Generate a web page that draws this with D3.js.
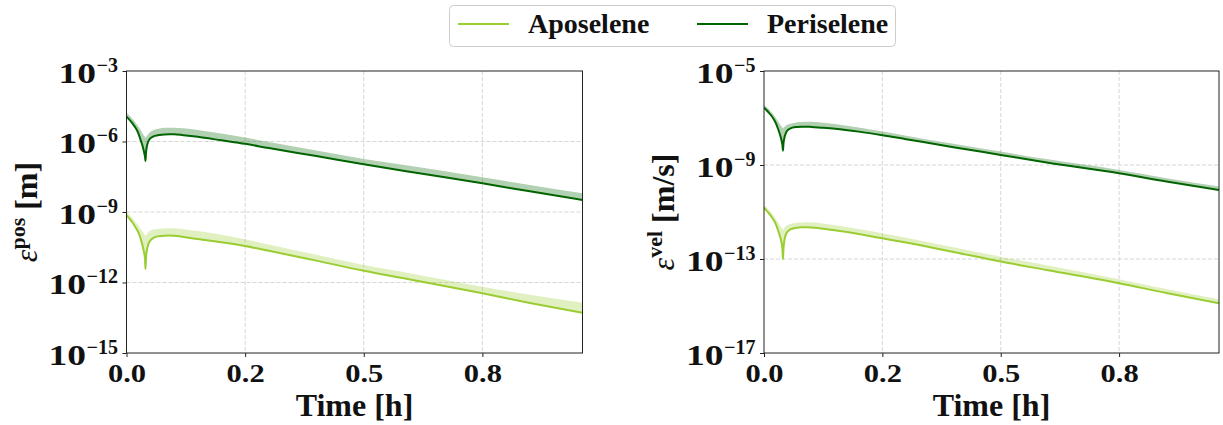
<!DOCTYPE html>
<html>
<head>
<meta charset="utf-8">
<script src="https://cdn.jsdelivr.net/npm/d3@7"></script>
<style>
  html, body { margin: 0; padding: 0; background: #ffffff; }
  svg { display: block; }
  text { font-family: 'Liberation Serif', 'Times New Roman', serif; font-weight: bold; fill: #111; }
</style>
</head>
<body>
<svg id="chart" width="1223" height="425"></svg>
<script>
// ---------------- data (log10 of the error values) ----------------
const time = [0, 0.005, 0.01, 0.015, 0.02, 0.025, 0.03, 0.034, 0.037, 0.039, 0.040, 0.041, 0.043, 0.046, 0.05, 0.055, 0.06, 0.07, 0.08, 0.09, 0.10, 0.12, 0.15, 0.2, 0.25, 0.3, 0.4, 0.5, 0.6, 0.75, 0.85, 0.961];

const posPeri   = [-4.94, -5.05, -5.17, -5.30, -5.45, -5.65, -5.95, -6.20, -6.45, -6.65, -6.83, -6.50, -6.20, -6.00, -5.87, -5.80, -5.76, -5.72, -5.70, -5.69, -5.69, -5.73, -5.80, -5.95, -6.10, -6.28, -6.62, -6.97, -7.30, -7.78, -8.12, -8.49];
const posPeriUp = [-4.77, -4.87, -4.98, -5.10, -5.22, -5.36, -5.52, -5.66, -5.76, -5.82, -5.85, -5.82, -5.76, -5.68, -5.60, -5.53, -5.49, -5.45, -5.42, -5.41, -5.41, -5.44, -5.51, -5.66, -5.83, -6.02, -6.38, -6.74, -7.04, -7.52, -7.85, -8.20];
const posApo    = [-9.13, -9.25, -9.38, -9.52, -9.68, -9.87, -10.15, -10.45, -10.72, -11.00, -11.43, -11.00, -10.62, -10.38, -10.22, -10.13, -10.07, -10.03, -10.01, -10.00, -10.01, -10.06, -10.15, -10.29, -10.45, -10.65, -11.07, -11.50, -11.88, -12.46, -12.87, -13.29];
const posApoUp  = [-8.96, -9.08, -9.20, -9.32, -9.45, -9.58, -9.72, -9.84, -9.93, -9.99, -10.02, -9.99, -9.93, -9.86, -9.80, -9.76, -9.73, -9.71, -9.70, -9.69, -9.69, -9.73, -9.81, -9.97, -10.16, -10.38, -10.82, -11.26, -11.62, -12.18, -12.52, -12.86];

const velPeri   = [-6.56, -6.66, -6.77, -6.89, -7.03, -7.22, -7.48, -7.72, -7.95, -8.17, -8.39, -8.12, -7.85, -7.65, -7.52, -7.45, -7.41, -7.38, -7.37, -7.37, -7.38, -7.41, -7.46, -7.58, -7.73, -7.90, -8.24, -8.57, -8.90, -9.35, -9.70, -10.06];
const velPeriUp = [-6.45, -6.53, -6.62, -6.73, -6.86, -7.00, -7.15, -7.27, -7.36, -7.42, -7.45, -7.42, -7.38, -7.32, -7.28, -7.24, -7.22, -7.18, -7.17, -7.16, -7.16, -7.19, -7.25, -7.40, -7.57, -7.75, -8.10, -8.43, -8.76, -9.21, -9.56, -9.92];
const velApo    = [-10.82, -10.93, -11.05, -11.18, -11.33, -11.52, -11.80, -12.05, -12.30, -12.60, -13.01, -12.60, -12.22, -11.97, -11.83, -11.75, -11.71, -11.67, -11.65, -11.65, -11.66, -11.70, -11.78, -11.94, -12.12, -12.30, -12.70, -13.11, -13.48, -14.03, -14.45, -14.88];
const velApoUp  = [-10.70, -10.80, -10.90, -11.02, -11.15, -11.30, -11.45, -11.57, -11.66, -11.72, -11.75, -11.72, -11.66, -11.60, -11.55, -11.51, -11.49, -11.46, -11.45, -11.44, -11.44, -11.48, -11.56, -11.72, -11.90, -12.10, -12.50, -12.90, -13.28, -13.86, -14.28, -14.71];

const seriesNames = ["Aposelene", "Periselene"];
const seriesColors = ["#9acd32", "#006400"];

const xTickValues = [0, 0.25, 0.5, 0.75];
const xTickLabels = ["0.0", "0.2", "0.5", "0.8"];
const posTickExps = [-3, -6, -9, -12, -15];
const velTickExps = [-5, -9, -13, -17];
const xMax = 0.961;

// ---------------- drawing ----------------
const svg = d3.select("#chart");
const defs = svg.append("defs");

function panel(opts) {
  const { left, right, top, bottom, yMinExp, yMaxExp, tickExps, series, yLabelMain, yLabelSup, yLabelUnit, yLabelX } = opts;
  const x = d3.scaleLinear().domain([0, xMax]).range([left, right]);
  const y = d3.scaleLog().domain([Math.pow(10, yMinExp), Math.pow(10, yMaxExp)]).range([bottom, top]);
  const g = svg.append("g");

  // grid
  const grid = g.append("g");
  grid.selectAll(".gx").data(xTickValues.filter(v => v > 0)).join("line")
    .attr("x1", d => x(d)).attr("x2", d => x(d)).attr("y1", top).attr("y2", bottom)
    .attr("stroke", "#d6d6d6").attr("stroke-width", 1).attr("stroke-dasharray", "4,2");
  grid.selectAll(".gy").data(tickExps.filter(e => e > yMinExp && e < yMaxExp)).join("line")
    .attr("x1", left).attr("x2", right).attr("y1", d => y(Math.pow(10, d))).attr("y2", d => y(Math.pow(10, d)))
    .attr("stroke", "#d6d6d6").attr("stroke-width", 1).attr("stroke-dasharray", "4,2");

  // clip
  const cid = "clip" + Math.round(left);
  defs.append("clipPath").attr("id", cid)
    .append("rect").attr("x", left).attr("y", top).attr("width", right - left).attr("height", bottom - top);
  const plot = g.append("g").attr("clip-path", `url(#${cid})`);

  series.forEach(s => {
    const pts = time.map((t, i) => ({ t, v: Math.pow(10, s.line[i]), u: Math.pow(10, s.upper[i]) }));
    const area = d3.area().x(d => x(d.t)).y0(d => y(d.v)).y1(d => y(d.u)).curve(d3.curveMonotoneX);
    plot.append("path").datum(pts).attr("d", area).attr("fill", s.color).attr("fill-opacity", 0.3).attr("stroke", "none");
  });
  series.forEach(s => {
    const pts = time.map((t, i) => ({ t, v: Math.pow(10, s.line[i]) }));
    const line = d3.line().x(d => x(d.t)).y(d => y(d.v)).curve(d3.curveMonotoneX);
    plot.append("path").datum(pts).attr("d", line).attr("fill", "none").attr("stroke", s.color).attr("stroke-width", 2);
  });

  // x axis
  const xAxis = d3.axisBottom(x).tickValues(xTickValues).tickFormat((d, i) => xTickLabels[i]).tickSizeOuter(0).tickSize(4);
  const gx = g.append("g").attr("transform", `translate(0,${bottom})`).call(xAxis);
  gx.select(".domain").remove();
  gx.selectAll(".tick line").attr("stroke", "#222");
  gx.selectAll(".tick text")
    .attr("y", null).attr("dy", null)
    .attr("transform", "translate(0,29) scale(1.22,1)")
    .attr("font-size", 25)
    .style("font-family", "'Liberation Serif', serif").style("font-weight", "bold").attr("fill", "#111");

  // y axis
  const yAxis = d3.axisLeft(y).tickValues(tickExps.map(e => Math.pow(10, e))).tickSizeOuter(0).tickSize(4);
  const gy = g.append("g").attr("transform", `translate(${left},0)`).call(yAxis);
  gy.select(".domain").remove();
  gy.selectAll(".tick line").attr("stroke", "#222");
  gy.selectAll(".tick").each(function (d) {
    const e = Math.round(Math.log10(d));
    const tick = d3.select(this);
    tick.select("text").remove();
    const sup = tick.append("text").attr("x", -8.5).attr("y", 0).attr("text-anchor", "end")
      .attr("font-size", 20).attr("fill", "#111").text("\u2212" + Math.abs(e));
    const w = sup.node().getComputedTextLength();
    tick.append("text").attr("text-anchor", "end")
      .attr("transform", `translate(${-8.5 - w - 0.5},11) scale(1.25,1)`)
      .attr("font-size", 30).attr("fill", "#111").text("10");
  });

  // frame
  g.append("rect").attr("x", left).attr("y", top).attr("width", right - left).attr("height", bottom - top)
    .attr("fill", "none").attr("stroke", "#222").attr("stroke-width", 1);

  // x label
  g.append("text").attr("x", (left + right) / 2).attr("y", 416).attr("text-anchor", "middle")
    .attr("font-size", 32).text("Time [h]");

  // y label
  const yl = g.append("text").attr("transform", `translate(${yLabelX},${(top + bottom) / 2}) rotate(-90)`)
    .attr("text-anchor", "middle").attr("font-size", 32);
  yl.append("tspan").style("font-style", "italic").style("font-weight", "normal").text(yLabelMain);
  yl.append("tspan").attr("dy", -12).attr("font-size", 22).text(yLabelSup);
  yl.append("tspan").attr("dy", 12).text(" " + yLabelUnit);
}

panel({
  left: 126.5, right: 582.5, top: 71, bottom: 353, yMinExp: -15, yMaxExp: -3, tickExps: posTickExps,
  series: [
    { line: posApo, upper: posApoUp, color: seriesColors[0] },
    { line: posPeri, upper: posPeriUp, color: seriesColors[1] }
  ],
  yLabelMain: "\u03B5", yLabelSup: "pos", yLabelUnit: "[m]", yLabelX: 37
});

panel({
  left: 764, right: 1219, top: 71, bottom: 353, yMinExp: -17, yMaxExp: -5, tickExps: velTickExps,
  series: [
    { line: velApo, upper: velApoUp, color: seriesColors[0] },
    { line: velPeri, upper: velPeriUp, color: seriesColors[1] }
  ],
  yLabelMain: "\u03B5", yLabelSup: "vel", yLabelUnit: "[m/s]", yLabelX: 674
});

// legend
const lg = svg.append("g");
lg.append("rect").attr("x", 449.5).attr("y", 5.5).attr("width", 446).attr("height", 41).attr("rx", 4)
  .attr("fill", "#fff").attr("stroke", "#cccccc").attr("stroke-width", 1);
const legX = [458, 697];
seriesNames.forEach((n, i) => {
  lg.append("line").attr("x1", legX[i]).attr("x2", legX[i] + 51).attr("y1", 24).attr("y2", 24)
    .attr("stroke", seriesColors[i]).attr("stroke-width", 2);
  lg.append("text").attr("x", legX[i] + 70).attr("y", 33).attr("font-size", 28).text(n);
});
</script>
</body>
</html>
